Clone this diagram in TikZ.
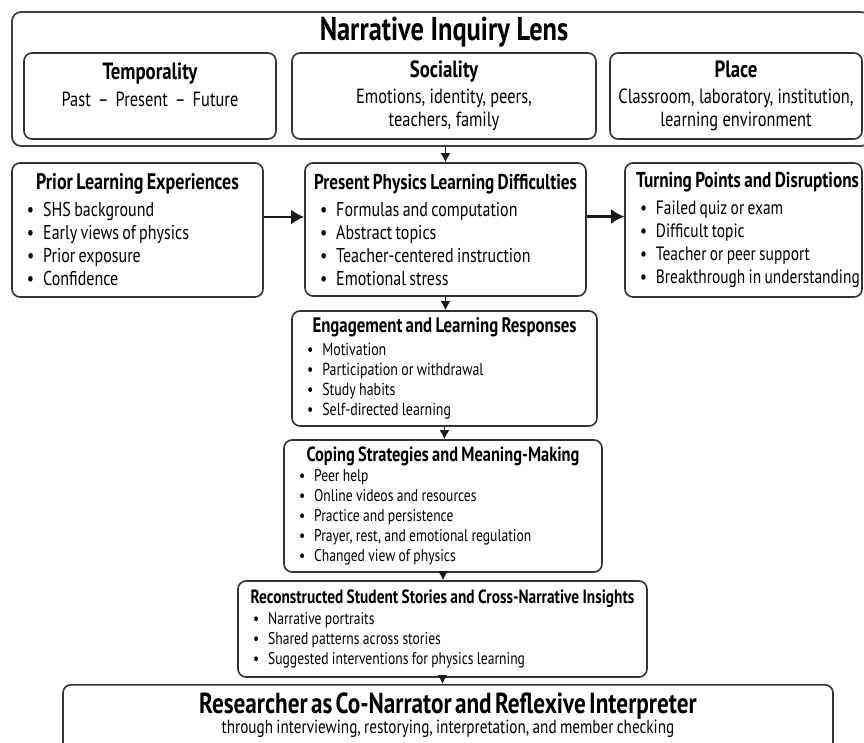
\documentclass[tikz,border=0pt]{standalone}
\usepackage{fontspec}
\setmainfont{PT Sans}[FakeStretch=0.8]
\usetikzlibrary{arrows.meta}

\newcommand{\bul}[1]{\mbox{\textbullet\hspace{9pt}#1}\par}
\newcommand{\cardhead}[2]{{\centering\fontsize{#1}{23}\selectfont\bfseries\makebox[\linewidth]{#2}\par}}

\begin{document}
\begin{tikzpicture}
[
x=1pt, y=-1pt,
Lens/.style={rectangle, rounded corners=9pt, draw=black!75, line width=1.8pt, minimum width=858pt, minimum height=134pt},
Facet/.style={rectangle, rounded corners=8pt, draw=black!80, line width=1.6pt, fill=white, minimum height=86pt, inner sep=0pt, align=center, font=\fontsize{20.5}{23}\selectfont},
Card/.style={rectangle, rounded corners=8pt, draw=black!80, line width=1.6pt, fill=white, inner xsep=15pt, inner ysep=0pt},
Flow/.style={-{Latex[length=9pt,width=10pt]}, line width=1.6pt, draw=black!90},
SideFlow/.style={-{Latex[length=13pt,width=15pt]}, line width=2.4pt, draw=black!90},
]
\useasboundingbox (0,0) rectangle (864,742);

% lens on top
\node[Lens] (lens) at (441,79) {};
\node[font=\fontsize{33}{36}\selectfont\bfseries] (lenstitle) at (444,32) {Narrative Inquiry Lens};

\node[Facet, minimum width=252pt] (temp) at (150,96) {%
    {\fontsize{23.5}{23}\selectfont\bfseries Temporality}\\[4pt]
    Past\hspace{7pt}--\hspace{7pt}Present\hspace{7pt}--\hspace{7pt}Future\\
    \mbox{}};
\node[Facet, minimum width=304pt] (soc) at (444,96) {%
    {\fontsize{23.5}{23}\selectfont\bfseries Sociality}\\[3pt]
    Emotions, identity, peers,\\
    teachers, family};
\node[Facet, minimum width=252pt] (place) at (736,96) {%
    {\fontsize{23.5}{23}\selectfont\bfseries Place}\\[3pt]
    Classroom, laboratory, institution,\\
    learning environment};

% middle row
\node[Card, minimum width=251pt, minimum height=134pt, text width=221pt] (prior) at (137.5,230) {%
    \cardhead{22.5}{Prior Learning Experiences}
    \vspace{4pt}\fontsize{20}{23}\selectfont\raggedright
    \bul{SHS background}
    \bul{Early views of physics}
    \bul{Prior exposure}
    \bul{Confidence}};
\node[Card, minimum width=281pt, minimum height=133pt, text width=251pt] (present) at (445.5,229.5) {%
    \cardhead{21.5}{Present Physics Learning Difficulties}
    \vspace{4pt}\fontsize{20}{23}\selectfont\raggedright
    \bul{Formulas and computation}
    \bul{Abstract topics}
    \bul{Teacher-centered instruction}
    \bul{Emotional stress}};
\node[Card, minimum width=237pt, minimum height=134pt, text width=207pt] (turning) at (743.5,230) {%
    \cardhead{21.5}{\hspace{8pt}Turning Points and Disruptions}
    \vspace{4pt}\fontsize{19.3}{23}\selectfont\raggedright
    \bul{Failed quiz or exam}
    \bul{Difficult topic}
    \bul{Teacher or peer support}
    \bul{Breakthrough in understanding}};

% lower steps
\node[Card, minimum width=305pt, minimum height=115pt, text width=275pt] (engage) at (444.5,368.5) {%
    \cardhead{21}{Engagement and Learning Responses}
    \vspace{3pt}\fontsize{17.4}{20}\selectfont\raggedright
    \bul{Motivation}
    \bul{Participation or withdrawal}
    \bul{Study habits}
    \bul{Self-directed learning}};
\node[Card, minimum width=318pt, minimum height=132pt, text width=288pt] (coping) at (443,506) {%
    \cardhead{20.5}{Coping Strategies and Meaning-Making}
    \vspace{0pt}\fontsize{17}{20}\selectfont\raggedright
    \bul{Peer help}
    \bul{Online videos and resources}
    \bul{Practice and persistence}
    \bul{Prayer, rest, and emotional regulation}
    \bul{Changed view of physics}};
\node[Card, minimum width=409pt, minimum height=96pt, text width=379pt] (recon) at (442.5,629) {%
    \cardhead{19.2}{Reconstructed Student Stories and Cross-Narrative Insights}
    \vspace{1pt}\fontsize{17}{20}\selectfont\raggedright
    \bul{Narrative portraits}
    \bul{Shared patterns across stories}
    \bul{Suggested interventions for physics learning}};
\node[Card, anchor=north, minimum width=770pt, text width=740pt, inner ysep=8pt] (research) at (448,684) {%
    {\centering\fontsize{29}{30}\selectfont\bfseries Researcher as Co-Narrator and Reflexive Interpreter\par}
    {\centering\fontsize{19}{20}\selectfont through interviewing, restorying, interpretation, and member checking\par}
    \rule{0pt}{40pt}};

% connectors
\draw[Flow] (lens.south -| present.north) -- (present.north);
\draw[SideFlow] ([yshift=13pt]prior.east) -- ([yshift=13pt]prior.east -| present.west);
\draw[SideFlow] ([yshift=13pt]present.east) -- ([yshift=13pt]present.east -| turning.west);
\draw[Flow] (present.south) -- (present.south |- engage.north);
\draw[Flow] (engage.south) -- (engage.south |- coping.north);
\draw[Flow] (coping.south) -- (coping.south |- recon.north);
\draw[Flow] (recon.south) -- (recon.south |- research.north);

\end{tikzpicture}
\end{document}
